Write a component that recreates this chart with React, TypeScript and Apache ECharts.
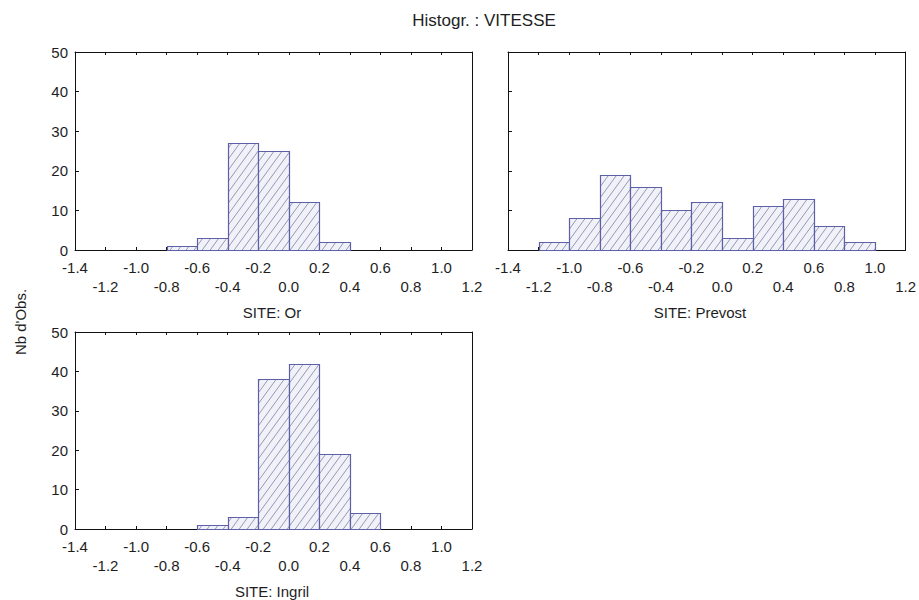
import React, { useEffect, useRef } from "react";
import * as echarts from "echarts";

// ---- data ----
const chartTitle = "Histogr. : VITESSE";
const yAxisTitle = "Nb d'Obs.";
const panelTitles = ["SITE: Or", "SITE: Prevost", "SITE: Ingril"];

const xMin = -1.4;
const xMax = 1.2;
const xStep = 0.2;
const yMax = 50;
const yStep = 10;

// bin edges and counts per site
const orEdges = [-0.8, -0.6, -0.4, -0.2, 0.0, 0.2, 0.4];
const orCounts = [1, 3, 27, 25, 12, 2];

const prevostEdges = [-1.2, -1.0, -0.8, -0.6, -0.4, -0.2, 0.0, 0.2, 0.4, 0.6, 0.8, 1.0];
const prevostCounts = [2, 8, 19, 16, 10, 12, 3, 11, 13, 6, 2];

const ingrilEdges = [-0.6, -0.4, -0.2, 0.0, 0.2, 0.4, 0.6];
const ingrilCounts = [1, 3, 38, 42, 19, 4];

const FONT = "'Liberation Sans', Arial, Helvetica, sans-serif";
const TEXT = "#1e1e1e";
const BAR_STROKE = "#5d60a6";

function toBins(edges: number[], counts: number[]) {
  return counts.map((c, i) => [edges[i], edges[i + 1], c]);
}

function makePattern() {
  const w = 8;
  const h = 11;
  const c = document.createElement("canvas");
  c.width = w;
  c.height = h;
  const ctx = c.getContext("2d")!;
  ctx.fillStyle = "#f1f2f8";
  ctx.fillRect(0, 0, w, h);
  ctx.strokeStyle = "#8b8db4";
  ctx.lineWidth = 0.9;
  for (const n of [-1, 0, 1]) {
    ctx.beginPath();
    ctx.moveTo(-w, 2 * h + n * h);
    ctx.lineTo(2 * w, -h + n * h);
    ctx.stroke();
  }
  return { image: c, repeat: "repeat", imageWidth: w, imageHeight: h };
}

export default function App() {
  const ref = useRef<HTMLDivElement>(null);

  useEffect(() => {
    if (!ref.current) return;
    const chart = echarts.init(ref.current, null, { renderer: "svg" });
    const pattern = makePattern();

    const grids = [
      { left: 75, top: 52, width: 397, height: 198 },
      { left: 508, top: 52, width: 398, height: 198 },
      { left: 75, top: 332, width: 397, height: 197 },
    ];

    const labelFmt = (v: number) => {
      const i = Math.round((v - xMin) / xStep);
      const s = Math.abs(v) < 1e-9 ? "0.0" : v.toFixed(1);
      return i % 2 === 0 ? s : "\n" + s;
    };

    const line = { show: true, onZero: false, lineStyle: { color: "#111", width: 1 } };
    const xAxes: any[] = [];
    const yAxes: any[] = [];
    grids.forEach((_, gi) => {
      xAxes.push({
        type: "value",
        gridIndex: gi,
        min: xMin,
        max: xMax,
        interval: xStep,
        position: "bottom",
        splitLine: { show: false },
        axisLine: line,
        axisTick: { show: true, inside: true, length: 3, lineStyle: { color: "#111" } },
        axisLabel: {
          show: true,
          formatter: labelFmt,
          color: TEXT,
          fontFamily: FONT,
          fontSize: 15,
          lineHeight: 19,
          margin: 8,
          showMinLabel: true,
          showMaxLabel: true,
        },
      });
      xAxes.push({
        type: "value",
        gridIndex: gi,
        min: xMin,
        max: xMax,
        interval: xStep,
        position: "top",
        splitLine: { show: false },
        axisLine: line,
        axisTick: { show: true, inside: true, length: 3, lineStyle: { color: "#111" } },
        axisLabel: { show: false },
      });
      yAxes.push({
        type: "value",
        gridIndex: gi,
        min: 0,
        max: yMax,
        interval: yStep,
        position: "left",
        splitLine: { show: false },
        axisLine: line,
        axisTick: { show: true, inside: true, length: 4, lineStyle: { color: "#111" } },
        axisLabel: {
          show: gi !== 1,
          color: TEXT,
          fontFamily: FONT,
          fontSize: 15,
          margin: 7,
        },
      });
      yAxes.push({
        type: "value",
        gridIndex: gi,
        min: 0,
        max: yMax,
        interval: yStep,
        position: "right",
        splitLine: { show: false },
        axisLine: line,
        axisTick: { show: false },
        axisLabel: { show: false },
      });
    });

    const datasets = [
      toBins(orEdges, orCounts),
      toBins(prevostEdges, prevostCounts),
      toBins(ingrilEdges, ingrilCounts),
    ];

    const series = datasets.map((data, gi) => ({
      type: "custom",
      xAxisIndex: gi * 2,
      yAxisIndex: gi * 2,
      data,
      renderItem: (params: any, api: any) => {
        const x0 = api.value(0);
        const x1 = api.value(1);
        const y = api.value(2);
        const p0 = api.coord([x0, y]);
        const p1 = api.coord([x1, 0]);
        return {
          type: "rect",
          shape: {
            x: Math.round(p0[0]) + 0.5,
            y: Math.round(p0[1]) + 0.5,
            width: Math.round(p1[0]) - Math.round(p0[0]),
            height: Math.round(p1[1]) - Math.round(p0[1]),
          },
          style: { fill: pattern, stroke: BAR_STROKE, lineWidth: 1.2 },
        };
      },
    }));

    const titleStyle = (text: string, size: number) => ({
      text,
      fontFamily: FONT,
      fontSize: size,
      fill: TEXT,
      textAlign: "center",
      textVerticalAlign: "middle",
    });

    const option: any = {
      animation: false,
      backgroundColor: "#ffffff",
      grid: grids,
      xAxis: xAxes,
      yAxis: yAxes,
      series,
      graphic: [
        { type: "text", x: 484, y: 20, style: titleStyle(chartTitle, 17) },
        { type: "text", x: 20, y: 322, rotation: Math.PI / 2, style: titleStyle(yAxisTitle, 15) },
        { type: "text", x: 272, y: 312, style: titleStyle(panelTitles[0], 15) },
        { type: "text", x: 700, y: 312, style: titleStyle(panelTitles[1], 15) },
        { type: "text", x: 272, y: 591, style: titleStyle(panelTitles[2], 15) },
      ],
    };

    chart.setOption(option);
    return () => chart.dispose();
  }, []);

  return (
    <div
      ref={ref}
      style={{ position: "fixed", left: 0, top: 0, width: 919, height: 600 }}
    />
  );
}
